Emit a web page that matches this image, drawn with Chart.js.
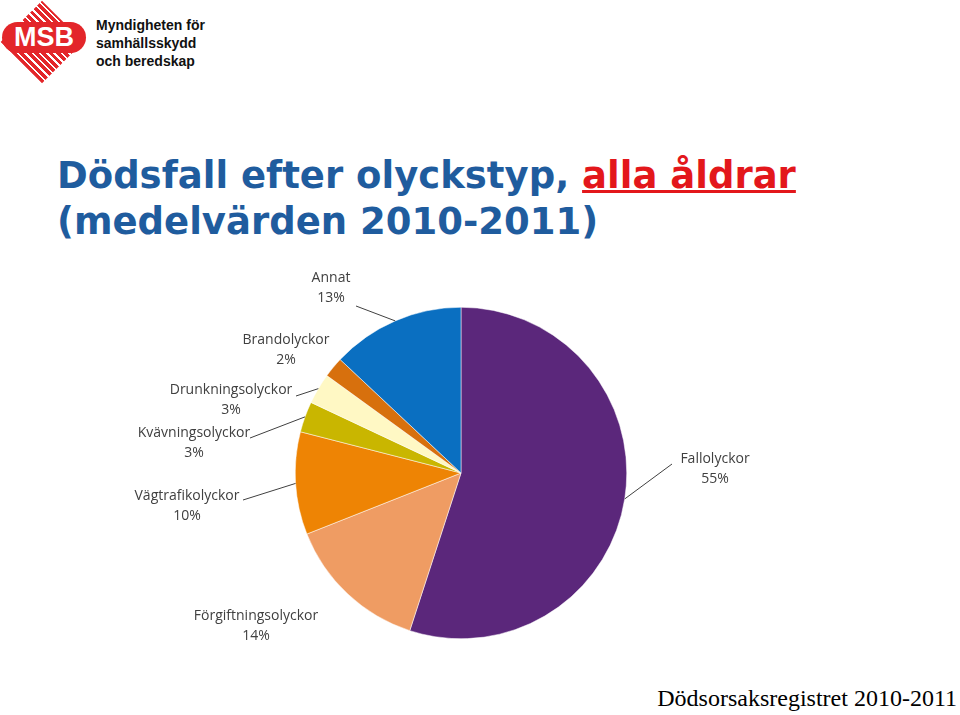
<!DOCTYPE html>
<html>
<head>
<meta charset="utf-8">
<script src="https://cdn.jsdelivr.net/npm/chart.js@4"></script>
<style>
  body { margin: 0; width: 960px; height: 715px; background: #fff; position: relative; overflow: hidden; font-family: "DejaVu Sans", sans-serif; }
  #logo { position: absolute; left: 8px; top: 8px; width: 68px; height: 68px; transform: rotate(45deg) scale(0.86); transform-origin: 34px 34px;
    background: repeating-linear-gradient(0deg, #e3262a 0 4px, #fff 4px 6px); }
  #msb { position: absolute; left: 2px; top: 22px; width: 84px; text-align: center; color: #fff; font: bold 27px "Liberation Sans", sans-serif; background: #e3262a; border-radius: 20px; }
  #org { position: absolute; left: 96px; top: 16px; font: bold 14px "Liberation Sans Narrow", "Liberation Sans", sans-serif; line-height: 18px; color: #111; }
  #title { position: absolute; left: 57px; top: 153px; font: bold 37px "DejaVu Sans", sans-serif; color: #1f5c9e; line-height: 46px; white-space: nowrap; }
  #title u { color: #e3171b; }
  #src { position: absolute; right: 3px; top: 685px; font: 24px "Liberation Serif", serif; color: #000; }
  #wrap { position: absolute; left: 295px; top: 307px; width: 332px; height: 332px; }
  #over { position: absolute; left: 0; top: 0; }
</style>
</head>
<body>
<div id="logo"></div>
<div id="msb">MSB</div>
<div id="org">Myndigheten för<br>samhällsskydd<br>och beredskap</div>
<div id="title">Dödsfall efter olyckstyp, <u>alla åldrar</u><br>(medelvärden 2010-2011)</div>
<div id="src">Dödsorsaksregistret 2010-2011</div>
<div id="wrap"><canvas id="pie" width="332" height="332"></canvas></div>
<canvas id="over" width="960" height="715"></canvas>
<script>
const categories = ["Fallolyckor", "Förgiftningsolyckor", "Vägtrafikolyckor", "Kvävningsolyckor", "Drunkningsolyckor", "Brandolyckor", "Annat"]
const shares = [55, 14, 10, 3, 3, 2, 13]
const colors = ["#5b277b", "#ef9c63", "#ee8404", "#c9b600", "#fff8c4", "#d7700d", "#0a6fc1"]

// where each label's text sits (first line centre) and where its leader line starts
const labelLayout = [
  { x: 715, y: 459, lx: 672, ly: 464 },
  { x: 256, y: 616, lx: null },
  { x: 187, y: 496, lx: 243, ly: 500 },
  { x: 194, y: 433, lx: 250, ly: 438 },
  { x: 231, y: 390, lx: 296, ly: 396 },
  { x: 286, y: 340, lx: null },
  { x: 331, y: 278, lx: 356, ly: 306 },
]

const labelsPlugin = {
  id: "outsideLabels",
  afterDraw(chart) {
    const ov = document.getElementById("over").getContext("2d")
    const box = document.getElementById("wrap")
    const ox = box.offsetLeft, oy = box.offsetTop
    const meta = chart.getDatasetMeta(0)
    ov.clearRect(0, 0, 960, 715)
    ov.font = '14px "Open Sans", sans-serif'
    ov.fillStyle = "#404040"
    ov.textAlign = "center"
    ov.textBaseline = "middle"
    meta.data.forEach((arc, i) => {
      const L = labelLayout[i]
      ov.fillText(categories[i], L.x, L.y)
      ov.fillText(shares[i] + "%", L.x, L.y + 20)
      if (L.lx !== null) {
        const a = (arc.startAngle + arc.endAngle) / 2
        const ex = ox + arc.x + Math.cos(a) * arc.outerRadius
        const ey = oy + arc.y + Math.sin(a) * arc.outerRadius
        ov.strokeStyle = "#404040"
        ov.lineWidth = 1
        ov.beginPath()
        ov.moveTo(L.lx, L.ly)
        ov.lineTo(ex, ey)
        ov.stroke()
      }
    })
  },
}

new Chart(document.getElementById("pie"), {
  type: "pie",
  data: {
    labels: categories,
    datasets: [{ data: shares, backgroundColor: colors, borderColor: "#ffffff", borderWidth: 0.5 }],
  },
  options: {
    responsive: false,
    animation: false,
    layout: { padding: 0 },
    plugins: { legend: { display: false }, tooltip: { enabled: false } },
  },
  plugins: [labelsPlugin],
})
</script>
</body>
</html>
